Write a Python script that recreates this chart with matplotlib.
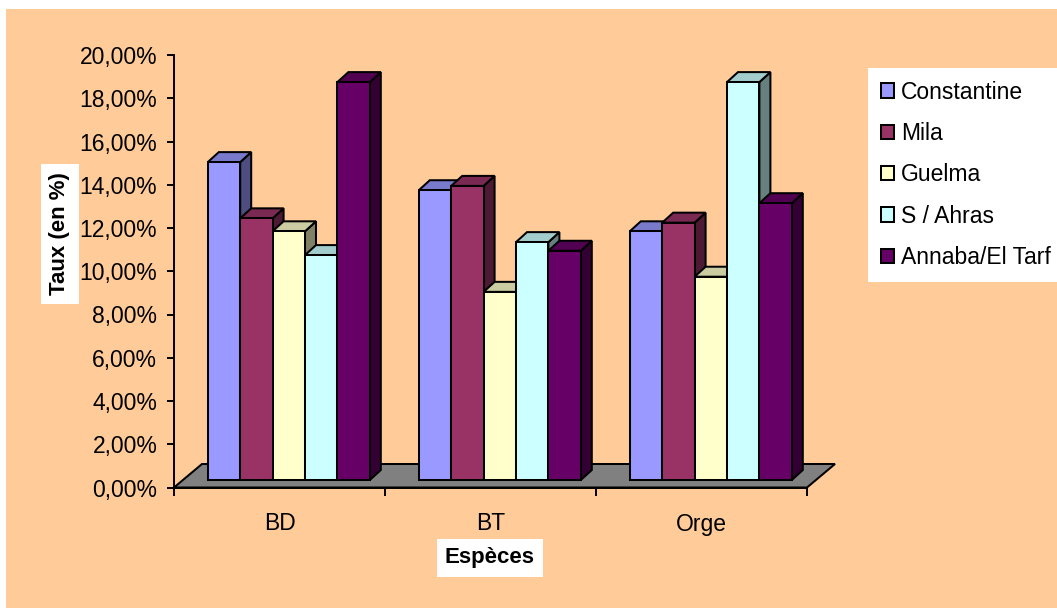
import numpy as np
import matplotlib.pyplot as plt
from matplotlib.patches import Polygon, Rectangle, Patch
from matplotlib.ticker import FuncFormatter, FixedLocator

plt.rcParams['font.family'] = ['Liberation Sans', 'DejaVu Sans']

especes = ["BD", "BT", "Orge"]
regions = ["Constantine", "Mila", "Guelma", "S / Ahras", "Annaba/El Tarf"]
taux = {
    "Constantine":    [14.7, 13.4, 11.5],
    "Mila":           [12.1, 13.6, 11.9],
    "Guelma":         [11.5, 8.7, 9.4],
    "S / Ahras":      [10.4, 11.0, 18.4],
    "Annaba/El Tarf": [18.4, 10.6, 12.8],
}
front_colors = ["#9999FF", "#993366", "#FFFFCC", "#CCFFFF", "#660066"]

W, H = 1057, 608
fig = plt.figure(figsize=(W / 100, H / 100), dpi=100)
fig.patch.set_facecolor("white")
fig.patches.append(Rectangle((6 / W, 0), 1, 1 - 9 / H, transform=fig.transFigure,
                             facecolor="#FFCC99", edgecolor="none", zorder=-10))

# plot box in pixels: y axis at x=174, 0% at y=487.5, 20% at y=55
x0, x1, y0, y1 = 174, 807, 487.5, 55
ax = fig.add_axes([x0 / W, 1 - y0 / H, (x1 - x0) / W, (y0 - y1) / H])
ax.set_facecolor("none")
ax.set_xlim(-0.5, 2.5)
ax.set_ylim(0, 20)

px_x = 3 / (x1 - x0)       # data units per pixel, horizontal
px_y = 20 / (y0 - y1)      # data units per pixel, vertical

def shade(c, f):
    r, g, b = [int(c[i:i + 2], 16) for i in (1, 3, 5)]
    return (r * f / 255, g * f / 255, b * f / 255)

LW = 1.45

# floor
fdx, fdy = 28 * px_x, 23.5 * px_y
floor = Polygon([(-0.5, 0), (2.5, 0), (2.5 + fdx, fdy), (-0.5 + fdx, fdy)],
                closed=True, facecolor="#808080", edgecolor="black", lw=LW,
                clip_on=False, zorder=1)
ax.add_patch(floor)

# bars, set back into the floor, with top and side faces
sx, sy = 9.3 * px_x, 7.5 * px_y
dx, dy = 11 * px_x, 10 * px_y
w = 32.4 * px_x
cats = np.arange(len(especes))
z = 2
for c in cats:
    for i, name in enumerate(regions):
        v = taux[name][c]
        col = front_colors[i]
        xl = c - 2.5 * w + i * w + sx
        xr = xl + w
        top = sy + v
        side = Polygon([(xr, sy), (xr + dx, sy + dy), (xr + dx, top + dy), (xr, top)],
                       facecolor=shade(col, 0.5), edgecolor="black", lw=LW,
                       clip_on=False, zorder=z)
        cap = Polygon([(xl, top), (xl + dx, top + dy), (xr + dx, top + dy), (xr, top)],
                      facecolor=shade(col, 0.8), edgecolor="black", lw=LW,
                      clip_on=False, zorder=z)
        ax.add_patch(side)
        ax.add_patch(cap)
        ax.bar(xl, v, width=w, bottom=sy, align="edge", color=col,
               edgecolor="black", lw=LW, zorder=z + 0.5, clip_on=False)
        z += 1

for s in ("top", "right"):
    ax.spines[s].set_visible(False)
for s in ("left", "bottom"):
    ax.spines[s].set_linewidth(1.4)
    ax.spines[s].set_zorder(z + 5)

ax.set_yticks(np.arange(0, 21, 2))
ax.yaxis.set_major_formatter(FuncFormatter(lambda y, _: f"{y:.2f}".replace(".", ",") + "%"))
ax.tick_params(axis="y", direction="out", length=5, width=1.4, labelsize=16.5, pad=7)

ax.xaxis.set_major_locator(FixedLocator([-0.5, 0.5, 1.5, 2.5]))
ax.xaxis.set_minor_locator(FixedLocator(cats))
ax.set_xticklabels([], minor=False)
ax.set_xticklabels(especes, minor=True)
ax.tick_params(axis="x", which="major", direction="out", length=6, width=1.4)
ax.tick_params(axis="x", which="minor", length=0, labelsize=16.5, pad=18)

fig.text(60 / W, 1 - 234 / H, "Taux (en %)", rotation=90, fontsize=16,
         fontweight="bold", ha="center", va="center",
         bbox=dict(facecolor="white", edgecolor="none", pad=6))
fig.text(490 / W, 1 - 558 / H, "Espèces", fontsize=16, fontweight="bold",
         ha="center", va="center",
         bbox=dict(facecolor="white", edgecolor="none", pad=6))

handles = [Patch(facecolor=c, edgecolor="black", lw=LW) for c in front_colors]
fig.legend(handles, regions, loc="upper left", bbox_to_anchor=(868 / W, 1 - 68 / H),
           fontsize=16.5, frameon=True, fancybox=False, framealpha=1,
           facecolor="white", edgecolor="none", handlelength=0.6, handleheight=0.6,
           handletextpad=0.3, labelspacing=0.8, borderpad=0.55, borderaxespad=0)

fig.savefig("out.png", dpi=100)
